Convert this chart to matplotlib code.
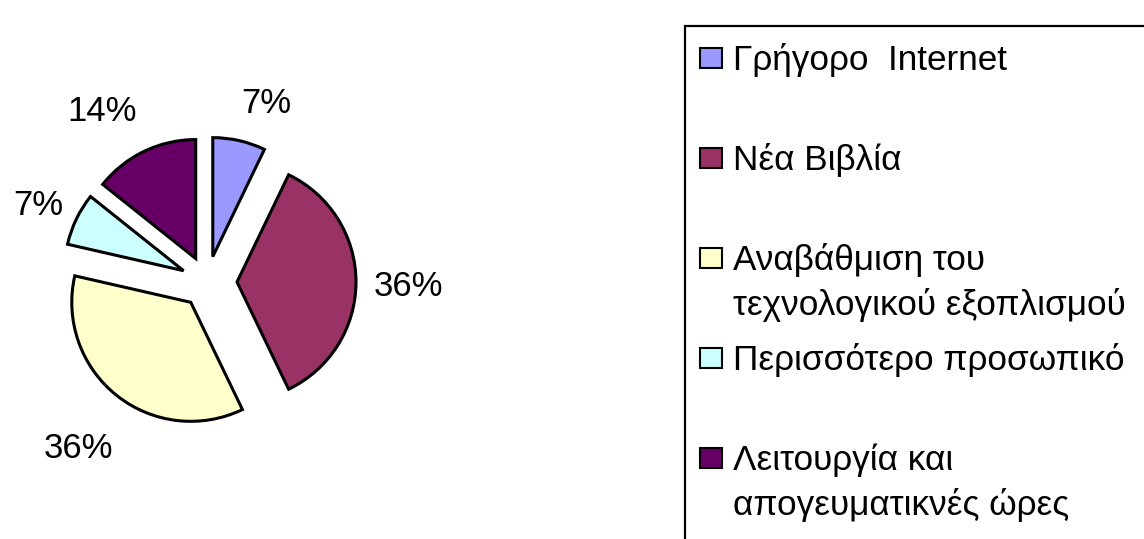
import numpy as np
import matplotlib.pyplot as plt
from matplotlib.patches import Rectangle

plt.rcParams['font.family'] = ['Liberation Sans', 'DejaVu Sans']

# data (counts out of 14 -> 7%, 36%, 36%, 7%, 14%)
categories = ['Γρήγορο  Internet', 'Νέα Βιβλία',
              'Αναβάθμιση του\nτεχνολογικού εξοπλισμού',
              'Περισσότερο προσωπικό',
              'Λειτουργία και\nαπογευματικνές ώρες']
counts = [1, 5, 5, 1, 2]
colors = ['#9999FF', '#993366', '#FFFFCC', '#CCFFFF', '#660066']

W, H = 1144, 539
fig = plt.figure(figsize=(W / 100, H / 100), dpi=100)
# axes in pixel units, y going up
ax = fig.add_axes([0, 0, 1, 1])

radius = 119
wedges, _ = ax.pie(counts, colors=colors, startangle=90, counterclock=False,
                   radius=radius, center=(207, H - 282),
                   explode=[26, 30, 26, 26, 26],
                   wedgeprops=dict(edgecolor='black', linewidth=2.2),
                   frame=True)
ax.set_xlim(0, W)
ax.set_ylim(0, H)
ax.set_aspect('equal')
ax.axis('off')

# percentage labels outside, Excel style
total = sum(counts)
label_dist = [1.40, 1.44, 1.52, 1.357, 1.50]
label_turn = [-6, 0, 0, 0, 6]   # small angular nudges in degrees
for w, c, d, t in zip(wedges, counts, label_dist, label_turn):
    th = np.deg2rad(0.5 * (w.theta1 + w.theta2) + t)
    cx, cy = w.center
    x = cx + d * radius * np.cos(th)
    y = cy + d * radius * np.sin(th) - 5
    ax.text(x, y, f'{round(100 * c / total)}%', ha='center', va='center',
            fontsize=25)

# legend box (runs off the right and bottom edge like the original)
ax.add_patch(Rectangle((685, -20), 600, H - 26 + 20, facecolor='none',
                       edgecolor='black', linewidth=1.6, clip_on=False))
for i, (lab, col) in enumerate(zip(categories, colors)):
    base = H - 70 - 100 * i
    ax.add_patch(Rectangle((700, base + 2), 22, 20, facecolor=col,
                           edgecolor='black', linewidth=1.5))
    for j, line in enumerate(lab.split('\n')):
        ax.text(733, base - 45 * j, line, ha='left', va='baseline',
                fontsize=25.3)

fig.savefig('out.png', dpi=100)
